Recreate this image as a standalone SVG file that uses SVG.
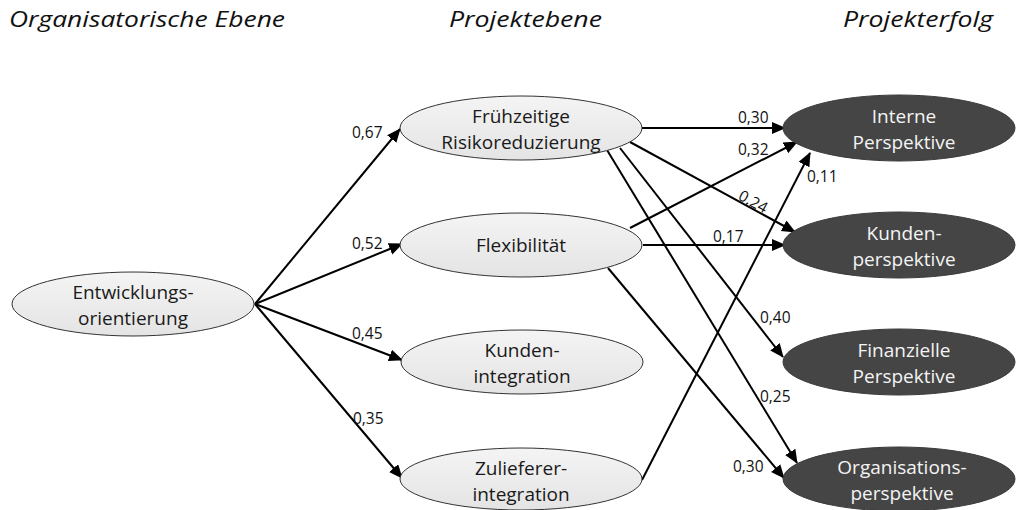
<svg xmlns="http://www.w3.org/2000/svg" width="1016" height="510" viewBox="0 0 1016 510">
  <defs>
    <linearGradient id="lightFill" x1="0" y1="0" x2="0" y2="1">
      <stop offset="0" stop-color="#f4f4f4"/>
      <stop offset="1" stop-color="#e4e4e4"/>
    </linearGradient>
    <marker id="arrow" markerUnits="userSpaceOnUse" markerWidth="15" markerHeight="13" refX="13" refY="6" orient="auto">
      <path d="M0,0 L14,6 L0,12 z" fill="#000"/>
    </marker>
  </defs>
  <style>
    .header { font-family: "Open Sans", "Noto Sans", sans-serif; font-style: italic; font-size: 22px; fill: #111; }
    .light ellipse { fill: url(#lightFill); stroke: #333; stroke-width: 1; }
    .dark ellipse { fill: #454545; stroke: #3a3a3a; stroke-width: 1; }
    .node text { font-family: "Open Sans", "Noto Sans", sans-serif; font-size: 19px; text-anchor: middle; }
    .light text { fill: #1a1a1a; }
    .dark text { fill: #f4f4f4; }
    .edges line { stroke: #000; stroke-width: 2; marker-end: url(#arrow); }
    .lbl { font-family: "Open Sans", "Noto Sans", sans-serif; font-size: 15.5px; fill: #111; }
  </style>

  <rect width="1016" height="510" fill="#fff"/>

  <!-- column headings -->
  <text class="header" x="9" y="27" textLength="276" lengthAdjust="spacingAndGlyphs">Organisatorische Ebene</text>
  <text class="header" x="449" y="27" textLength="153" lengthAdjust="spacingAndGlyphs">Projektebene</text>
  <text class="header" x="843" y="27" textLength="150" lengthAdjust="spacingAndGlyphs">Projekterfolg</text>

  <!-- connectors -->
  <g id="connectors" class="edges">
    <line x1="255" y1="304" x2="400" y2="129"/>
    <line x1="255" y1="304" x2="402" y2="244"/>
    <line x1="255" y1="304" x2="402" y2="360"/>
    <line x1="255" y1="304" x2="402" y2="478"/>

    <line x1="642" y1="128" x2="785" y2="128"/>
    <line x1="630" y1="142" x2="795" y2="232"/>
    <line x1="620" y1="148" x2="783" y2="357"/>
    <line x1="607" y1="150" x2="797" y2="463"/>
    <line x1="630" y1="228" x2="797" y2="142"/>
    <line x1="643" y1="245" x2="785" y2="245"/>
    <line x1="608" y1="268" x2="784" y2="478"/>
    <line x1="642" y1="480" x2="810" y2="153"/>
  </g>

  <!-- path coefficients -->
  <g id="labels">
    <text class="lbl" x="352" y="138">0,67</text>
    <text class="lbl" x="352" y="249">0,52</text>
    <text class="lbl" x="352" y="339">0,45</text>
    <text class="lbl" x="353" y="424">0,35</text>
    <text class="lbl" x="738" y="123">0,30</text>
    <text class="lbl" x="738" y="155">0,32</text>
    <text class="lbl" x="753" y="207" text-anchor="middle" transform="rotate(29 753 202)">0,24</text>
    <text class="lbl" x="713" y="242">0,17</text>
    <text class="lbl" x="807" y="182">0,11</text>
    <text class="lbl" x="760" y="323">0,40</text>
    <text class="lbl" x="760" y="402">0,25</text>
    <text class="lbl" x="733" y="472">0,30</text>
  </g>

  <!-- organisational level -->
  <g id="entwicklungsorientierung" class="node light">
    <ellipse cx="133" cy="304" rx="121" ry="32"/>
    <text x="133" y="299">Entwicklungs-</text>
    <text x="133" y="325">orientierung</text>
  </g>

  <!-- project level -->
  <g id="risikoreduzierung" class="node light">
    <ellipse cx="521" cy="128" rx="121" ry="32"/>
    <text x="521" y="123">Frühzeitige</text>
    <text x="521" y="149">Risikoreduzierung</text>
  </g>
  <g id="flexibilitaet" class="node light">
    <ellipse cx="521" cy="245" rx="121" ry="32"/>
    <text x="521" y="252">Flexibilität</text>
  </g>
  <g id="kundenintegration" class="node light">
    <ellipse cx="522" cy="362" rx="121" ry="32"/>
    <text x="522" y="357">Kunden-</text>
    <text x="522" y="383">integration</text>
  </g>
  <g id="zuliefererintegration" class="node light">
    <ellipse cx="521" cy="479" rx="121" ry="31"/>
    <text x="521" y="475">Zulieferer-</text>
    <text x="521" y="501">integration</text>
  </g>

  <!-- project success -->
  <g id="interne-perspektive" class="node dark">
    <ellipse cx="899" cy="128" rx="116" ry="33"/>
    <text x="904" y="123">Interne</text>
    <text x="904" y="149">Perspektive</text>
  </g>
  <g id="kundenperspektive" class="node dark">
    <ellipse cx="899" cy="245" rx="116" ry="33"/>
    <text x="904" y="240">Kunden-</text>
    <text x="904" y="266">perspektive</text>
  </g>
  <g id="finanzielle-perspektive" class="node dark">
    <ellipse cx="899" cy="362" rx="116" ry="33"/>
    <text x="904" y="357">Finanzielle</text>
    <text x="904" y="383">Perspektive</text>
  </g>
  <g id="organisationsperspektive" class="node dark">
    <ellipse cx="899" cy="479" rx="116" ry="32"/>
    <text x="902" y="474">Organisations-</text>
    <text x="902" y="500">perspektive</text>
  </g>
</svg>
